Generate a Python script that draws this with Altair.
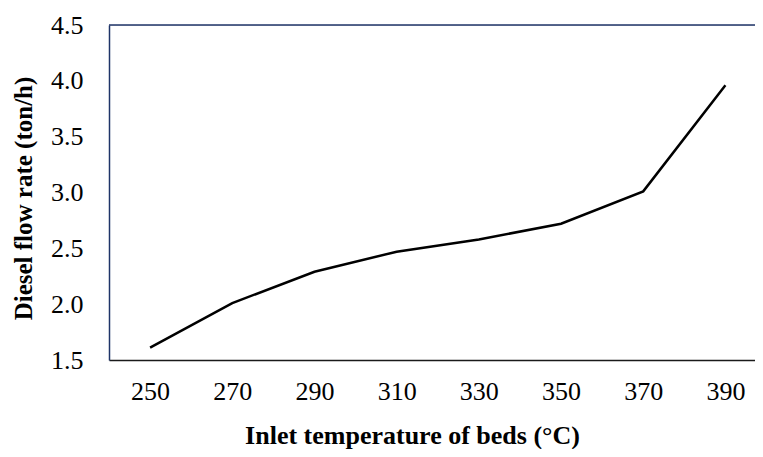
import altair as alt
import pandas as pd

temps = [250, 270, 290, 310, 330, 350, 370, 390]
flow = [1.61, 2.01, 2.29, 2.47, 2.58, 2.72, 3.01, 3.96]
x_ticks = [250, 270, 290, 310, 330, 350, 370, 390]
y_ticks = [1.5, 2.0, 2.5, 3.0, 3.5, 4.0, 4.5]

df = pd.DataFrame({"temp": temps, "flow": flow})

FONT = "Liberation Serif"
NAVY = "#1f3468"

x_enc = alt.X(
    "temp:Q",
    scale=alt.Scale(domain=[240, 397.2], nice=False, zero=False),
    axis=alt.Axis(
        values=x_ticks, title="Inlet temperature of beds (°C)", grid=False,
        ticks=False, labelPadding=18, labelFontSize=26, labelFont=FONT,
        labelColor="black", domainColor="#1a1a1a", domainWidth=1.5,
        titleFont=FONT, titleFontSize=26, titleFontWeight="bold", titleColor="black",
        titleX=303, titleY=83, titleBaseline="alphabetic", titleAlign="center",
        format="d",
    ),
)
y_enc = alt.Y(
    "flow:Q",
    scale=alt.Scale(domain=[1.5, 4.5], nice=False, zero=False),
    axis=alt.Axis(
        values=y_ticks, title="Diesel flow rate (ton/h)", grid=False,
        ticks=False, labelPadding=26, labelFontSize=26, labelFont=FONT,
        labelColor="black", domainColor=NAVY, domainWidth=1.5, format=".1f",
        titleFont=FONT, titleFontSize=25, titleFontWeight="bold", titleColor="black",
        titleX=-78, titleY=173, titleBaseline="alphabetic", titleAlign="center",
    ),
)

line = alt.Chart(df).mark_line(color="black", strokeWidth=2.5).encode(x=x_enc, y=y_enc)

top = alt.Chart(pd.DataFrame({"v": [4.5]})).mark_rule(color=NAVY, strokeWidth=1.5).encode(
    y=alt.Y("v:Q", scale=alt.Scale(domain=[1.5, 4.5], nice=False, zero=False))
)

chart = (
    alt.layer(line, top)
    .properties(
        width=646, height=335,
        autosize=alt.AutoSizeParams(type="none"),
        padding={"left": 101, "top": 17, "right": 0, "bottom": 89},
    )
    .configure_view(stroke=None)
    .configure(background="white")
)

chart.save("out.html", embed_options={"renderer": "svg", "actions": False})
